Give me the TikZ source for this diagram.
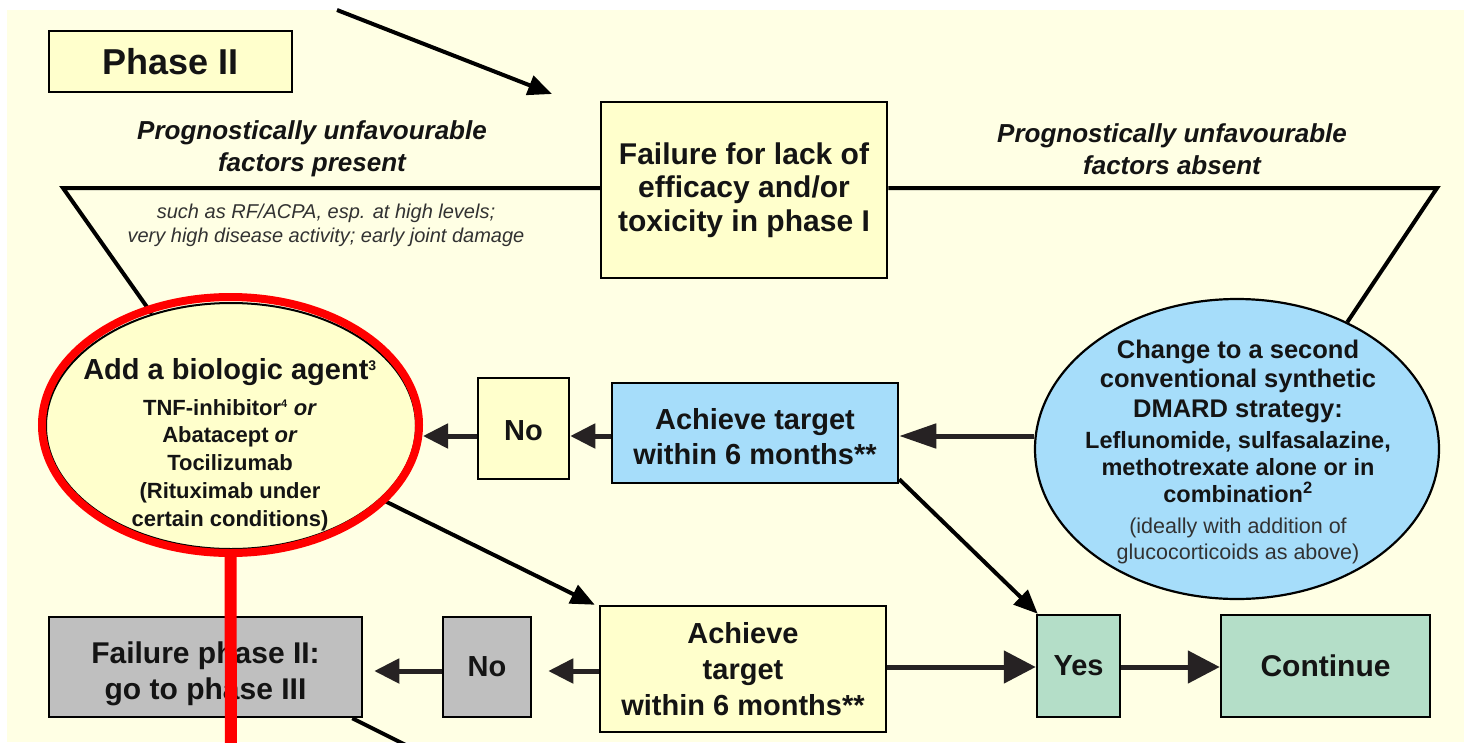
\documentclass[tikz,border=0pt]{standalone}
\usepackage{fontspec}
\setmainfont{Liberation Sans}
\usetikzlibrary{shapes.geometric,arrows.meta}
\definecolor{bgy}{RGB}{255,255,228}
\definecolor{boxy}{RGB}{255,255,204}
\definecolor{boxb}{RGB}{166,221,250}
\definecolor{boxg}{RGB}{191,191,191}
\definecolor{boxgr}{RGB}{180,222,200}
\definecolor{arrc}{RGB}{38,34,35}
\definecolor{txt}{RGB}{20,20,20}
\definecolor{smalltxt}{RGB}{50,50,50}
\begin{document}
\begin{tikzpicture}[x=1pt,y=-1pt,
  box/.style={draw=black,line width=2.5pt,rectangle,inner sep=0pt,align=center,text=txt,
    font=\bfseries\fontsize{29}{35}\selectfont},
  harrow/.style={draw=arrc,line width=5pt,-{Triangle[length=25pt,width=24pt]}},
  bigarrow/.style={draw=arrc,line width=5pt,-{Triangle[length=32pt,width=32pt]}},
  darrow/.style={draw=black,line width=4pt,-{Triangle[length=24pt,width=20pt]}},
  branch/.style={draw=black,line width=4pt,line join=miter},
  lbl/.style={align=center,text=txt,inner sep=0pt}
]
\useasboundingbox (0,0) rectangle (1464,742);
\clip (0,0) rectangle (1464,742);
\fill[white] (0,0) rectangle (1464,742);
\fill[bgy] (7,10) rectangle (1464,742);

% nodes
\node[box,fill=boxy,minimum width=243pt,minimum height=61pt,font=\bfseries\fontsize{36}{40}\selectfont] (phase) at (170.5,61.5) {Phase II};
\node[box,fill=boxy,minimum width=286pt,minimum height=176pt,font=\bfseries\fontsize{30}{33.5}\selectfont] (fail) at (744,190) {Failure for lack of\\efficacy and/or\\toxicity in phase I};

\node[lbl,font=\bfseries\itshape\fontsize{26}{31.5}\selectfont] (presentlbl) at (312,149) {Prognostically unfavourable\\factors present};
\node[lbl,font=\itshape\fontsize{20}{24}\selectfont,text=smalltxt] (suchlbl) at (326,225) {such as RF/ACPA, esp. at high levels;\\very high disease activity; early joint damage};
\node[lbl,font=\bfseries\itshape\fontsize{26}{31.5}\selectfont] (absentlbl) at (1172,149) {Prognostically unfavourable\\factors absent};

\node[ellipse,draw=black,line width=2pt,fill=boxy,minimum width=370pt,minimum height=246pt,inner sep=0pt] (bio) at (231,426) {};
\node[ellipse,draw=black,line width=2.2pt,fill=boxb,minimum width=404pt,minimum height=300pt,inner sep=0pt] (dmard) at (1237,449) {};

\node[box,fill=boxy,minimum width=91pt,minimum height=101pt] (no1) at (523.5,428.5) {\rule{0pt}{25pt}No};
\node[box,fill=boxb,minimum width=286pt,minimum height=100pt] (ach1) at (755,433) {\rule{0pt}{29pt}Achieve target\\within 6 months**};

\node[box,fill=boxg,minimum width=313pt,minimum height=100pt,font=\bfseries\fontsize{30}{36}\selectfont] (failII) at (205.5,667) {\rule{0pt}{36pt}Failure phase II:\\go to phase III};
\node[box,fill=boxg,minimum width=88pt,minimum height=100pt] (no2) at (487,667) {No};
\node[box,fill=boxy,minimum width=286pt,minimum height=126pt,font=\bfseries\fontsize{29}{36}\selectfont] (ach2) at (743,669) {Achieve\\target\\within 6 months**};
\node[box,fill=boxgr,minimum width=83pt,minimum height=102pt] (yes) at (1078.5,666) {Yes};
\node[box,fill=boxgr,minimum width=209pt,minimum height=102pt,font=\bfseries\fontsize{30}{35}\selectfont] (cont) at (1325.5,666) {Continue};

% ellipse texts
\node[lbl,font=\bfseries\fontsize{29}{32}\selectfont] (biotitle) at (230,372) {Add a biologic agent\textsuperscript{\fontsize{14}{14}\selectfont 3}};
\node[lbl,font=\bfseries\fontsize{22}{27.75}\selectfont] (biotext) at (230,465) {TNF-inhibitor\textsuperscript{\fontsize{11}{11}\selectfont 4} \textit{or}\\Abatacept \textit{or}\\Tocilizumab\\(Rituximab under\\certain conditions)};
\node[lbl,font=\bfseries\fontsize{25.5}{29.5}\selectfont] (dm1) at (1238,381) {Change to a second\\conventional synthetic\\DMARD strategy:};
\node[lbl,font=\bfseries\fontsize{23.5}{27}\selectfont] (dm2) at (1238,467) {Leflunomide, sulfasalazine,\\methotrexate alone or in\\combination\textsuperscript{2}};
\node[lbl,font=\fontsize{21.5}{25.5}\selectfont,text=smalltxt] (dm3) at (1238,541) {(ideally with addition of\\glucocorticoids as above)};

% coordinates
\coordinate (topstart) at (337,10);
\coordinate (toptip) at (552,94);
\coordinate (lcorner) at (63,188);
\coordinate (rcorner) at (1437,188);
\coordinate (botend) at (410.8,747.5);
\coordinate (r1) at (0,436);
\coordinate (r2) at (0,671);
\coordinate (r3) at (0,667);

% frame lines
\draw[darrow] (topstart) -- (toptip);
\draw[branch] (fail.west |- lcorner) -- (lcorner) -- (bio);
\draw[branch] (fail.east |- rcorner) -- (rcorner) -- (dmard.49);

% row 1
\draw[harrow,-{Triangle[length=37pt,width=24pt]}] (dmard.west |- r1) -- (ach1.east |- r1);
\draw[harrow] (ach1.west |- r1) -- (no1.east |- r1);

% diagonals
\draw[darrow] ([yshift=5pt]ach1.south east) -- ([xshift=2pt]yes.north west);
\draw[darrow] (bio.-26) -- ([xshift=-4pt]ach2.north west);

% row 2
\draw[harrow] (ach2.west |- r2) -- ([xshift=16pt]no2.east |- r2);
\draw[harrow] (no2.west |- r2) -- ([xshift=11pt]failII.east |- r2);
\draw[bigarrow] (ach2.east |- r3) -- (yes.west |- r3);
\draw[bigarrow] (yes.east |- r3) -- (cont.west |- r3);
\draw[branch] ([xshift=-11pt]failII.south east) -- (botend);

% red annotation
\node[ellipse,draw=red,line width=8pt,minimum width=377pt,minimum height=256pt,inner sep=0pt] (ring) at (230.5,425) {};
\draw[harrow] (no1.west |- r1) -- (ring.east |- r1);
\coordinate (redend) at (231,750);
\draw[red,line width=12pt] (ring.south) -- (redend);
\end{tikzpicture}
\end{document}
